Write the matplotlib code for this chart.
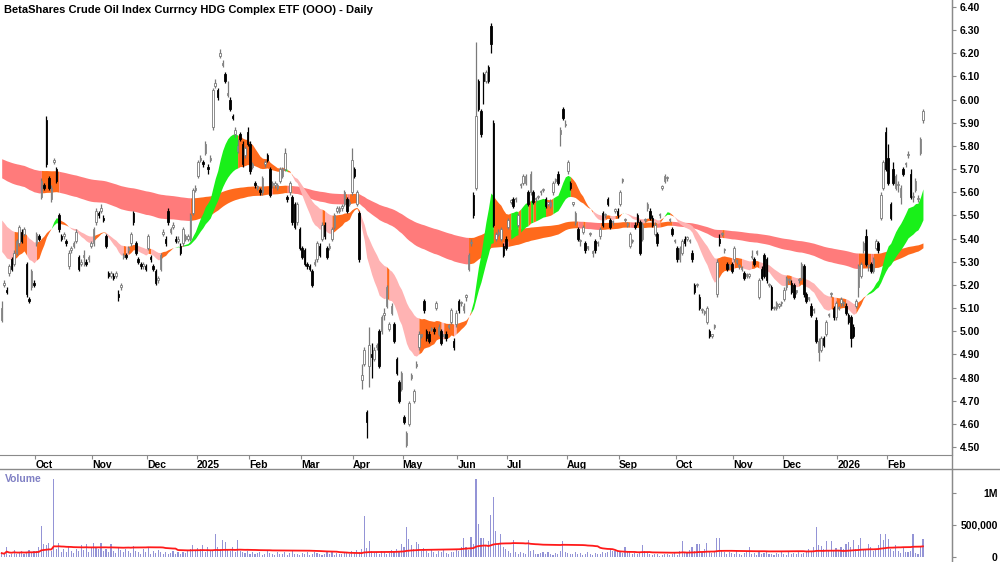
import numpy as np
import pandas as pd
import matplotlib
matplotlib.use("Agg")
import matplotlib.pyplot as plt
from matplotlib.lines import Line2D

plt.rcParams['font.family'] = ['Liberation Sans', 'DejaVu Sans']
plt.rcParams['font.weight'] = 'bold'

title = "BetaShares Crude Oil Index Currncy HDG Complex ETF (OOO) - Daily"

opens = [
5.05,5.20,5.18,5.25,5.31,5.29,5.34,5.38,5.43,5.42,
5.29,5.14,5.19,5.21,5.38,5.41,5.58,5.63,5.91,5.66,
5.57,5.73,5.70,5.50,5.41,5.41,5.39,5.28,5.35,5.37,
5.39,5.32,5.29,5.32,5.30,5.31,5.37,5.38,5.47,5.51,
5.52,5.49,5.41,5.25,5.24,5.24,5.24,5.16,5.19,5.32,
5.33,5.35,5.38,5.51,5.38,5.31,5.29,5.28,5.28,5.36,
5.32,5.28,5.26,5.22,5.27,5.42,5.40,5.52,5.43,5.45,
5.40,5.39,5.37,5.38,5.40,5.40,5.40,5.51,5.61,5.67,
5.74,5.73,5.77,5.71,5.74,5.88,6.06,6.04,6.19,6.15,
6.11,6.02,6.00,5.93,5.85,5.78,5.85,5.81,5.76,5.86,
5.81,5.71,5.64,5.62,5.61,5.60,5.72,5.76,5.70,5.63,
5.63,5.62,5.65,5.67,5.70,5.58,5.60,5.58,5.55,5.47,
5.44,5.36,5.35,5.29,5.28,5.26,5.29,5.31,5.37,5.40,
5.46,5.36,5.36,5.40,5.45,5.52,5.52,5.53,5.55,5.57,
5.55,5.60,5.70,5.55,5.51,4.79,4.86,4.65,4.85,4.90,
4.88,4.93,5.00,5.00,5.07,5.11,5.01,5.08,5.03,4.88,
4.78,4.75,4.63,4.51,4.60,4.80,4.70,4.85,4.93,4.98,
5.13,5.00,4.99,5.01,5.01,5.10,4.99,5.00,4.98,4.99,
5.02,5.04,4.96,5.03,5.13,5.12,5.09,5.15,5.27,5.38,
5.59,5.62,6.08,5.95,6.11,6.08,6.14,6.32,5.90,5.40,
5.42,5.40,5.37,5.40,5.45,5.56,5.57,5.57,5.46,5.63,
5.64,5.64,5.60,5.60,5.60,5.57,5.58,5.60,5.61,5.57,
5.55,5.54,5.60,5.65,5.68,5.85,5.96,5.89,5.69,5.64,
5.55,5.47,5.44,5.39,5.43,5.38,5.36,5.42,5.34,5.39,
5.38,5.41,5.51,5.50,5.57,5.48,5.47,5.52,5.52,5.55,
5.65,5.48,5.46,5.37,5.39,5.46,5.50,5.47,5.40,5.48,
5.53,5.52,5.49,5.42,5.42,5.50,5.62,5.65,5.66,5.48,
5.44,5.39,5.36,5.31,5.34,5.40,5.40,5.39,5.34,5.20,
5.20,5.15,5.09,5.08,5.04,5.00,4.98,5.02,5.16,5.40,
5.42,5.35,5.29,5.28,5.29,5.31,5.30,5.28,5.27,5.25,
5.24,5.24,5.32,5.31,5.34,5.15,5.27,5.33,5.31,5.20,
5.19,5.10,5.10,5.11,5.12,5.14,5.19,5.22,5.21,5.20,
5.17,5.22,5.23,5.28,5.16,5.14,5.11,5.09,5.05,4.91,
4.92,4.97,4.99,5.07,5.16,5.10,5.06,5.10,5.12,5.12,
5.11,5.07,5.06,5.02,5.11,5.19,5.24,5.35,5.41,5.28,
5.29,5.26,5.36,5.38,5.49,5.62,5.86,5.75,5.55,5.70,
5.62,5.63,5.58,5.70,5.72,5.76,5.68,5.58,5.61,5.57,
5.77,5.91]

highs = [
5.13,5.22,5.19,5.29,5.32,5.35,5.40,5.46,5.44,5.45,
5.30,5.15,5.27,5.22,5.43,5.42,5.66,5.64,5.93,5.67,
5.63,5.75,5.71,5.51,5.42,5.43,5.40,5.35,5.37,5.39,
5.44,5.33,5.31,5.35,5.31,5.33,5.39,5.45,5.53,5.52,
5.55,5.50,5.42,5.26,5.26,5.25,5.26,5.18,5.21,5.34,
5.34,5.37,5.43,5.52,5.39,5.32,5.30,5.30,5.29,5.42,
5.33,5.29,5.27,5.24,5.34,5.44,5.41,5.53,5.45,5.47,
5.41,5.41,5.38,5.45,5.42,5.42,5.51,5.62,5.63,5.74,
5.76,5.74,5.82,5.72,5.76,6.05,6.09,6.05,6.22,6.17,
6.12,6.08,6.01,5.94,5.88,5.83,5.86,5.82,5.80,5.88,
5.82,5.73,5.65,5.63,5.62,5.67,5.74,5.77,5.71,5.65,
5.65,5.64,5.71,5.71,5.79,5.59,5.65,5.59,5.56,5.56,
5.45,5.37,5.36,5.30,5.29,5.27,5.31,5.39,5.38,5.47,
5.47,5.37,5.38,5.45,5.51,5.54,5.54,5.55,5.61,5.58,
5.57,5.79,5.71,5.61,5.52,4.86,4.93,4.66,5.02,4.95,
4.93,4.95,5.01,5.07,5.10,5.20,5.04,5.12,5.04,4.89,
4.79,4.83,4.64,4.57,4.70,4.82,4.75,4.87,5.00,4.99,
5.14,5.01,5.00,5.02,5.02,5.13,5.03,5.01,4.99,5.00,
5.03,5.10,4.97,5.09,5.14,5.13,5.12,5.16,5.34,5.40,
5.60,6.25,6.09,5.96,6.12,6.13,6.15,6.33,5.91,5.43,
5.44,5.45,5.38,5.41,5.49,5.57,5.58,5.58,5.51,5.64,
5.68,5.68,5.61,5.69,5.61,5.58,5.59,5.61,5.62,5.58,
5.56,5.57,5.65,5.66,5.69,5.88,5.97,5.91,5.74,5.65,
5.56,5.52,5.45,5.40,5.46,5.39,5.37,5.43,5.35,5.40,
5.39,5.45,5.52,5.51,5.58,5.49,5.48,5.53,5.53,5.61,
5.66,5.49,5.47,5.43,5.40,5.47,5.51,5.48,5.47,5.49,
5.56,5.53,5.50,5.47,5.43,5.51,5.63,5.68,5.67,5.49,
5.45,5.40,5.37,5.37,5.40,5.41,5.41,5.40,5.35,5.21,
5.21,5.16,5.10,5.09,5.11,5.01,4.99,5.03,5.31,5.42,
5.43,5.36,5.30,5.29,5.30,5.37,5.31,5.29,5.28,5.26,
5.25,5.25,5.35,5.32,5.35,5.23,5.28,5.34,5.32,5.21,
5.20,5.11,5.13,5.12,5.13,5.19,5.24,5.23,5.22,5.21,
5.18,5.23,5.30,5.29,5.17,5.15,5.12,5.10,5.06,4.97,
4.98,4.98,5.05,5.08,5.17,5.11,5.13,5.11,5.15,5.13,
5.12,5.08,5.07,5.03,5.14,5.29,5.30,5.39,5.44,5.29,
5.30,5.32,5.40,5.39,5.60,5.74,5.88,5.81,5.56,5.73,
5.68,5.65,5.63,5.71,5.73,5.78,5.70,5.60,5.66,5.59,
5.84,5.96]

lows = [
5.04,5.19,5.16,5.24,5.26,5.28,5.33,5.37,5.38,5.41,
5.15,5.12,5.18,5.19,5.37,5.39,5.57,5.61,5.71,5.61,
5.56,5.72,5.64,5.43,5.39,5.40,5.37,5.27,5.34,5.36,
5.38,5.26,5.28,5.28,5.28,5.30,5.36,5.37,5.46,5.49,
5.51,5.47,5.36,5.23,5.23,5.22,5.23,5.13,5.18,5.31,
5.31,5.34,5.37,5.46,5.33,5.29,5.27,5.27,5.26,5.35,
5.30,5.26,5.20,5.21,5.26,5.41,5.37,5.46,5.42,5.44,
5.38,5.38,5.33,5.37,5.39,5.39,5.39,5.50,5.60,5.66,
5.73,5.71,5.76,5.68,5.73,5.87,6.05,6.00,6.18,6.14,
6.07,6.01,5.95,5.91,5.84,5.77,5.82,5.71,5.75,5.80,
5.68,5.70,5.62,5.61,5.59,5.59,5.71,5.73,5.58,5.62,
5.62,5.61,5.64,5.66,5.69,5.56,5.59,5.46,5.44,5.46,
5.35,5.31,5.28,5.27,5.26,5.19,5.28,5.30,5.32,5.39,
5.40,5.31,5.35,5.39,5.44,5.51,5.51,5.52,5.54,5.51,
5.54,5.59,5.66,5.54,5.30,4.75,4.85,4.54,4.76,4.80,
4.87,4.92,4.84,4.99,5.05,5.10,5.00,5.07,4.95,4.81,
4.69,4.74,4.60,4.50,4.59,4.79,4.69,4.84,4.92,4.97,
5.08,4.96,4.95,5.00,4.99,5.09,4.98,4.94,4.97,4.96,
5.01,5.03,4.92,5.02,5.08,5.11,5.08,5.13,5.26,5.37,
5.49,5.61,5.95,5.84,5.98,6.07,6.07,6.20,5.45,5.39,
5.41,5.39,5.32,5.35,5.44,5.55,5.53,5.56,5.45,5.62,
5.63,5.63,5.54,5.59,5.55,5.56,5.57,5.59,5.60,5.53,
5.54,5.53,5.59,5.64,5.63,5.80,5.91,5.88,5.68,5.61,
5.54,5.46,5.39,5.37,5.42,5.34,5.35,5.41,5.32,5.34,
5.37,5.40,5.45,5.49,5.54,5.44,5.46,5.51,5.49,5.54,
5.64,5.47,5.45,5.36,5.38,5.44,5.46,5.33,5.39,5.47,
5.52,5.48,5.45,5.41,5.37,5.49,5.61,5.64,5.65,5.47,
5.41,5.38,5.30,5.30,5.33,5.37,5.39,5.38,5.30,5.16,
5.19,5.09,5.08,5.07,5.03,4.97,4.97,5.01,5.15,5.37,
5.41,5.34,5.26,5.27,5.25,5.30,5.29,5.27,5.26,5.22,
5.23,5.23,5.31,5.28,5.33,5.14,5.22,5.23,5.21,5.19,
5.09,5.09,5.09,5.10,5.11,5.13,5.18,5.21,5.16,5.14,
5.16,5.21,5.22,5.15,5.12,5.13,5.06,5.08,4.95,4.87,
4.91,4.93,4.98,5.06,5.15,5.05,5.05,5.09,5.11,5.11,
5.07,5.03,4.93,4.97,5.10,5.15,5.23,5.34,5.28,5.26,
5.25,5.25,5.35,5.34,5.48,5.61,5.69,5.63,5.48,5.63,
5.61,5.60,5.55,5.67,5.71,5.75,5.57,5.56,5.60,5.56,
5.76,5.90]

closes = [
5.10,5.21,5.17,5.28,5.27,5.34,5.39,5.45,5.39,5.44,
5.16,5.13,5.26,5.20,5.42,5.40,5.65,5.62,5.72,5.62,
5.62,5.74,5.65,5.44,5.40,5.42,5.38,5.34,5.36,5.38,
5.43,5.27,5.30,5.33,5.29,5.32,5.38,5.44,5.52,5.50,
5.53,5.48,5.37,5.24,5.25,5.23,5.25,5.15,5.20,5.33,
5.32,5.36,5.42,5.47,5.34,5.30,5.28,5.29,5.27,5.41,
5.31,5.27,5.21,5.23,5.33,5.43,5.38,5.47,5.44,5.46,
5.39,5.40,5.34,5.44,5.41,5.41,5.50,5.61,5.62,5.73,
5.75,5.72,5.81,5.70,5.75,6.04,6.07,6.01,6.20,6.16,
6.08,6.03,5.96,5.92,5.87,5.80,5.83,5.72,5.79,5.81,
5.69,5.72,5.63,5.62,5.60,5.66,5.73,5.74,5.59,5.64,
5.64,5.63,5.70,5.70,5.77,5.57,5.64,5.47,5.45,5.55,
5.36,5.32,5.29,5.28,5.27,5.20,5.30,5.38,5.33,5.46,
5.41,5.32,5.37,5.44,5.50,5.53,5.53,5.54,5.60,5.52,
5.56,5.74,5.67,5.60,5.31,4.81,4.92,4.61,4.94,4.89,
4.92,4.94,4.85,5.06,5.08,5.19,5.03,5.11,4.96,4.82,
4.70,4.82,4.61,4.56,4.69,4.81,4.74,4.86,4.99,4.98,
5.09,4.97,4.96,5.01,5.00,5.12,5.02,4.95,4.98,4.97,
5.02,5.09,4.93,5.08,5.09,5.12,5.11,5.15,5.33,5.38,
5.50,5.93,5.96,5.85,6.08,6.12,6.08,6.24,5.46,5.42,
5.43,5.44,5.33,5.36,5.48,5.56,5.54,5.57,5.50,5.63,
5.67,5.67,5.55,5.68,5.56,5.57,5.58,5.60,5.61,5.54,
5.55,5.56,5.64,5.65,5.64,5.87,5.92,5.89,5.73,5.62,
5.55,5.51,5.40,5.39,5.45,5.35,5.36,5.42,5.34,5.35,
5.38,5.44,5.46,5.50,5.55,5.45,5.47,5.52,5.50,5.60,
5.65,5.48,5.46,5.42,5.39,5.45,5.47,5.34,5.46,5.48,
5.55,5.49,5.46,5.46,5.38,5.50,5.62,5.67,5.66,5.48,
5.42,5.39,5.31,5.36,5.39,5.38,5.40,5.39,5.31,5.17,
5.20,5.10,5.09,5.08,5.10,4.98,4.98,5.02,5.30,5.38,
5.42,5.35,5.27,5.28,5.26,5.36,5.30,5.28,5.27,5.23,
5.24,5.24,5.32,5.29,5.34,5.22,5.23,5.24,5.22,5.20,
5.10,5.10,5.12,5.11,5.12,5.18,5.23,5.22,5.17,5.15,
5.17,5.22,5.29,5.16,5.13,5.14,5.07,5.09,4.96,4.96,
4.97,4.94,5.04,5.07,5.16,5.06,5.12,5.10,5.14,5.12,
5.08,5.04,4.97,4.98,5.13,5.28,5.29,5.38,5.29,5.28,
5.26,5.31,5.39,5.35,5.59,5.73,5.70,5.64,5.49,5.64,
5.67,5.63,5.62,5.68,5.72,5.76,5.58,5.58,5.65,5.57,
5.83,5.95]

# volume in thousands of units
volume_k = [
60,40,150,30,50,110,40,70,90,50,
80,110,60,100,90,150,485,200,180,212,
90,1210,120,210,80,130,70,150,100,60,
120,90,180,110,200,80,160,210,140,120,
220,100,130,80,200,90,60,150,110,70,
130,90,60,170,100,80,50,120,70,160,
40,90,60,110,70,50,80,40,60,90,
50,70,40,80,60,100,120,180,90,140,
120,190,80,150,110,100,360,150,120,260,
240,130,90,150,80,260,100,70,60,90,
50,80,40,60,70,30,50,90,60,40,
30,70,40,50,80,30,60,90,40,50,
30,60,40,70,30,50,80,60,40,30,
50,70,40,90,30,60,50,40,80,60,
50,90,70,110,80,120,636,140,250,100,
60,80,50,90,70,40,60,110,80,120,
90,200,150,470,280,180,120,230,200,90,
140,100,60,120,80,50,90,70,110,60,
50,80,70,120,90,160,300,150,110,310,
200,1210,515,290,290,180,250,650,924,400,
200,360,150,120,90,60,258,70,50,80,
60,40,258,90,110,50,40,60,80,50,
70,40,30,60,50,90,250,80,60,40,
50,70,40,60,30,50,80,40,30,60,
50,40,70,60,80,120,100,90,110,80,
60,160,100,80,50,60,40,70,180,90,
60,40,30,50,40,20,30,50,40,30,
40,60,30,90,250,70,80,110,150,100,
200,200,80,120,220,100,60,90,300,300,
90,70,50,80,60,40,90,50,30,60,
70,150,40,60,30,80,50,60,90,40,
50,30,60,40,70,50,30,90,40,60,
50,80,40,60,70,120,90,150,470,180,
170,130,250,110,250,90,140,100,160,120,
200,240,150,260,130,190,300,120,110,200,
150,100,130,180,350,270,350,280,120,100,
180,90,60,150,80,70,90,350,60,50,
150,280]

month_labels = ["Oct", "Nov", "Dec", "2025", "Feb", "Mar", "Apr", "May", "Jun",
                "Jul", "Aug", "Sep", "Oct", "Nov", "Dec", "2026", "Feb"]
month_start_bar = [14, 37, 59, 79, 100, 121, 142, 162, 184, 204, 228, 249, 272, 295, 315, 337, 357]

price_ticks = [4.5, 4.6, 4.7, 4.8, 4.9, 5.0, 5.1, 5.2, 5.3, 5.4, 5.5, 5.6, 5.7, 5.8, 5.9, 6.0, 6.1, 6.2, 6.3, 6.4]
volume_ticks = [0, 500000, 1000000]
volume_tick_labels = ["0", "500,000", "1M"]

# indicator settings (EMA periods and the band levels at the first bar)
short_periods = (20, 40)
long_periods = (150, 250)
short_start = (5.37, 5.50)
long_start = (5.67, 5.75)
vol_ma_period = 50

n = len(closes)
assert all(len(a) == n for a in (opens, highs, lows, volume_k))

o = np.array(opens); h = np.array(highs); l = np.array(lows); c = np.array(closes)
h = np.maximum(h, np.maximum(o, c)); l = np.minimum(l, np.minimum(o, c))
vol = np.array(volume_k) * 1000.0
x = np.arange(n)


def ema(values, period, seed):
    a = 2.0 / (period + 1)
    out = np.empty(len(values))
    prev = seed
    for i, v in enumerate(values):
        prev = prev + a * (v - prev)
        out[i] = prev
    return out


GREEN = "#19F019"
ORANGE = "#FF6A1C"
PINK = "#FFB3B3"
SALMON = "#FF7B7B"

s_fast = ema(c, short_periods[0], short_start[0])
s_slow = ema(c, short_periods[1], short_start[1])
l_fast = ema(c, long_periods[0], long_start[0])
l_slow = ema(c, long_periods[1], long_start[1])

s_rise = s_fast > np.r_[short_start[0], s_fast[:-1]]
s_col = np.where(s_rise & (s_fast > s_slow), GREEN,
                 np.where(~s_rise & (s_fast < s_slow), PINK, ORANGE))
l_rise = l_fast > np.r_[long_start[0], l_fast[:-1]]
l_col = np.where(l_rise, ORANGE, SALMON)


def draw_band(ax, a, b, cols):
    start = 0
    for i in range(1, n + 1):
        if i == n or cols[i] != cols[start]:
            end = min(i, n - 1)
            ax.fill_between(x[start:end + 1], a[start:end + 1], b[start:end + 1],
                            color=cols[start], linewidth=0, zorder=1)
            start = i


fig = plt.figure(figsize=(10, 5.62), dpi=100)
ax = fig.add_axes([0, 1 - 455 / 562, 0.952, 455 / 562])
axv = fig.add_axes([0, 0, 0.952, 1 - 469 / 562])

xlim = (-0.68, 382.7)
ax.set_xlim(*xlim)
axv.set_xlim(*xlim)
ax.set_ylim(4.4657, 6.4302)
axv.set_ylim(-78000, 1366000)

draw_band(ax, l_fast, l_slow, l_col)
draw_band(ax, s_fast, s_slow, s_col)

up = c >= o
wick_cols = np.where(up, "#7a7a7a", "#000000")
ax.vlines(x, l, h, colors=wick_cols, linewidth=0.9, zorder=3)
body_bottom = np.minimum(o, c)
body_h = np.maximum(np.abs(c - o), 0.006)
ax.bar(x[up], body_h[up], bottom=body_bottom[up], width=0.62,
       color="white", edgecolor="#7a7a7a", linewidth=0.6, zorder=4)
ax.bar(x[~up], body_h[~up], bottom=body_bottom[~up], width=0.62,
       color="black", edgecolor="black", linewidth=0.6, zorder=4)

# axes styling
gray = "#8a8a8a"
for a_ in (ax, axv):
    for s in ("top", "left"):
        a_.spines[s].set_visible(False)
    a_.spines["right"].set_color(gray)
    a_.spines["bottom"].set_color(gray)
axv.spines["bottom"].set_visible(False)

ax.yaxis.tick_right()
ax.set_yticks(price_ticks)
ax.set_yticklabels([f"{t:.2f}" for t in price_ticks])
ax.tick_params(axis="y", direction="out", length=3, color=gray, pad=2.5, labelsize=7.5)

ax.set_xticks([m - 0.5 for m in month_start_bar])
ax.set_xticklabels(month_labels)
ax.tick_params(axis="x", direction="out", length=3, color=gray, pad=0.5, labelsize=7.5)
for lbl in ax.get_xticklabels():
    lbl.set_ha("left")

axv.bar(x, vol, width=0.45, color="#9494D6", linewidth=0, zorder=2)
vol_ma = pd.Series(vol).rolling(vol_ma_period, min_periods=1).mean().values
axv.plot(x, vol_ma, color="#FF1A1A", linewidth=1.3, zorder=3)
axv.yaxis.tick_right()
axv.set_yticks(volume_ticks)
axv.set_yticklabels(volume_tick_labels)
axv.tick_params(axis="y", direction="out", length=3, color=gray, pad=30, labelsize=7.5)
for lbl in axv.get_yticklabels():
    lbl.set_ha("right")
axv.set_xticks([])

# frame lines of the chart window
fig.add_artist(Line2D([0, 1], [1 - 469 / 562, 1 - 469 / 562], color=gray, linewidth=1.0))
fig.add_artist(Line2D([0.952, 0.952], [0, 1], color=gray, linewidth=1.0))

fig.text(4 / 1000, 1 - 10 / 562, title, fontsize=8, va="center", ha="left", color="black")
fig.text(5 / 1000, 1 - 479 / 562, "Volume", fontsize=7.5, va="center", ha="left", color="#8080C4")

fig.savefig("out.png", dpi=100)
